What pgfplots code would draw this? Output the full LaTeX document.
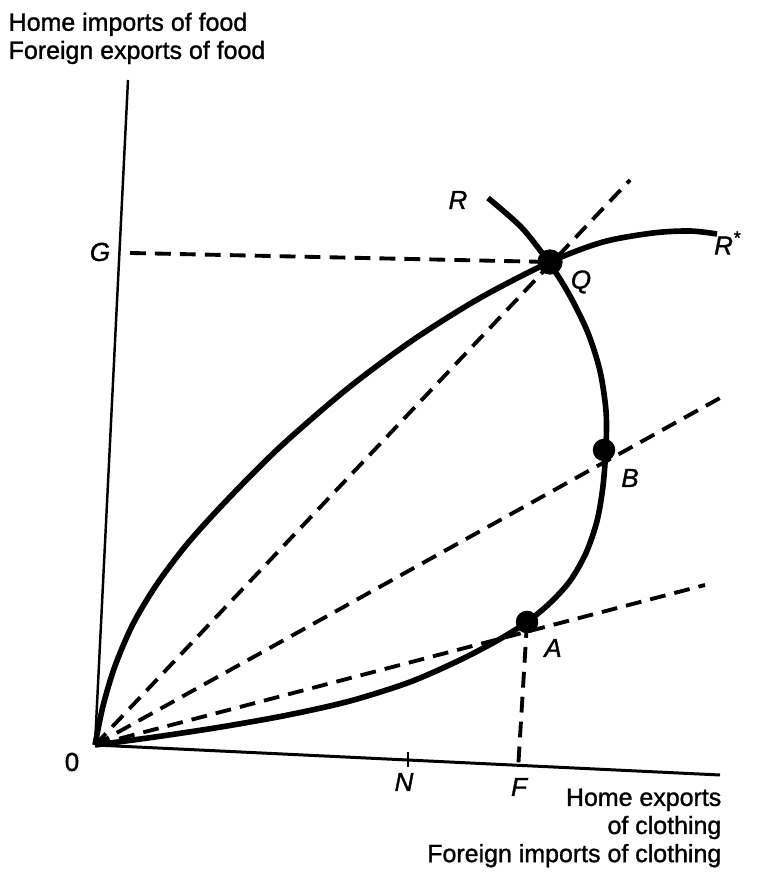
\documentclass[border=0pt]{standalone}
\usepackage{pgfplots}
\pgfplotsset{compat=1.18}
\usepackage{fontspec}
\setmainfont{Liberation Sans}[FakeBold=1.2]
\tikzset{
  lbl/.style={font=\fontsize{7.4}{8}\selectfont\itshape},
  ttl/.style={font=\fontsize{7.1}{8}\selectfont},
  dashedline/.style={line width=1.1pt, dash pattern=on 4.5pt off 2.6pt},
}
\begin{document}
\begin{tikzpicture}
\begin{axis}[
  scale only axis, width=7.64cm, height=8.86cm,
  xmin=0, xmax=764, ymin=0, ymax=886,
  axis lines=none, clip=false,
  every axis plot/.append style={black},
]
% keep the full drawing area in the bounding box
\path (rel axis cs:0,0) rectangle (rel axis cs:1,1);

% axes (drawn slightly skewed like the printed figure)
\addplot[line width=0.7pt] coordinates {(128,806) (95,141)};
\addplot[line width=0.85pt] coordinates {(95,141) (720,111)};
% tick at N
\addplot[line width=0.8pt] coordinates {(408,134) (408,119)};

% dashed rays from the origin
\addplot[dashedline] coordinates {(95,141) (630,706)};
\addplot[dashedline] coordinates {(95,141) (720,488)};
\addplot[dashedline] coordinates {(95,141) (705,301)};
% projections to G and F
\addplot[dashedline] coordinates {(130,633) (550,624)};
\addplot[dashedline] coordinates {(527,264) (518,116)};

% home offer curve 0R
\addplot[line width=1.6pt, smooth, tension=0.5] coordinates {
  (95,141) (155,149) (221,159) (288,171) (350,185) (410,204) (460,226)
  (500,247) (527,264) (550,283) (570,305) (586,333) (597,365)
  (603,400) (606,440) (606,475) (600,515) (588,553) (570,590)
  (550,622) (522,658) (488,688)};
% foreign offer curve 0R*
\addplot[line width=1.6pt, smooth, tension=0.5] coordinates {
  (95,141) (103,180) (115,220) (133,262) (157,302) (188,343)
  (228,387) (280,439) (347,497) (413,546) (480,588) (550,624)
  (603,644) (653,653) (690,655) (717,652)};

% equilibrium and trade points
\addplot[only marks, mark=*, mark size=3.4pt] coordinates {(550,624)};
\addplot[only marks, mark=*, mark size=3.0pt] coordinates {(604,436) (527,264)};

% point labels
\node[lbl] at (axis cs:458,686) {R};
\node[lbl] at (axis cs:728,643) {R\textsuperscript{*}};
\node[lbl] at (axis cs:581,604) {Q};
\node[lbl] at (axis cs:630,408) {B};
\node[lbl] at (axis cs:553,238) {A};
\node[lbl] at (axis cs:100,634) {G};
\node[font=\fontsize{7.4}{8}\selectfont] at (axis cs:72,124) {0};
\node[lbl] at (axis cs:404,104) {N};
\node[lbl] at (axis cs:519,99) {F};

% axis titles
\node[ttl, anchor=north west, align=left, inner sep=0pt] at (axis cs:8,874)
  {Home imports of food\\Foreign exports of food};
\node[ttl, anchor=north east, align=right, inner sep=0pt] at (axis cs:722,98)
  {Home exports\\of clothing\\Foreign imports of clothing};
\end{axis}
\end{tikzpicture}
\end{document}
